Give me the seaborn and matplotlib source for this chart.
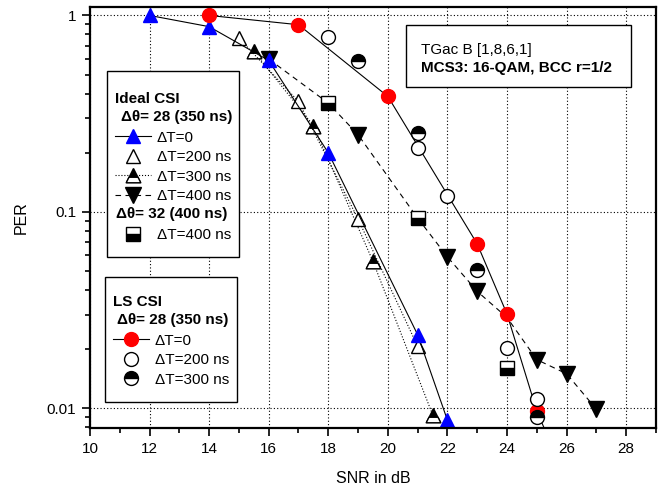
import numpy as np
import pandas as pd
import matplotlib
matplotlib.use("Agg")
import matplotlib.pyplot as plt
import seaborn as sns
from matplotlib.lines import Line2D
from matplotlib.patches import Rectangle
from matplotlib.path import Path
from matplotlib.text import Text
from matplotlib.legend_handler import HandlerBase, HandlerTuple
from matplotlib.ticker import FixedLocator, FixedFormatter, MultipleLocator, LogLocator, NullFormatter

# ---------------- data ----------------
# Ideal CSI, dtheta = 28 (350 ns)
ideal_dt0_snr = [12, 14, 16, 18, 21, 22]
ideal_dt0_per = [1.0, 0.877, 0.59, 0.20, 0.0237, 0.0087]
ideal_dt200_snr = [15, 17, 19, 21]
ideal_dt200_per = [0.767, 0.365, 0.092, 0.0207]
ideal_dt300_snr = [15.5, 17.5, 19.5, 21.5]
ideal_dt300_per = [0.656, 0.275, 0.056, 0.0093]
ideal_dt400_snr = [16, 18, 19, 21, 22, 23, 24, 25, 26, 27]
ideal_dt400_per = [0.60, 0.358, 0.247, 0.093, 0.059, 0.0394, 0.029, 0.0177, 0.015, 0.0099]
ideal_dt400_marked = [0, 2, 4, 5, 7, 8, 9]
# Ideal CSI, dtheta = 32 (400 ns)
ideal32_dt400_snr = [18, 21, 24]
ideal32_dt400_per = [0.358, 0.093, 0.016]
# LS CSI, dtheta = 28 (350 ns)
ls_dt0_snr = [14, 17, 20, 23, 24, 25, 26]
ls_dt0_per = [1.0, 0.897, 0.387, 0.0687, 0.0302, 0.0097, 0.0043]
ls_dt200_snr = [18, 21, 22, 24, 25]
ls_dt200_per = [0.78, 0.211, 0.121, 0.0203, 0.0111]
ls_dt300_snr = [19, 21, 23, 25]
ls_dt300_per = [0.583, 0.252, 0.0504, 0.0090]

x_ticks = [10, 12, 14, 16, 18, 20, 22, 24, 26, 28]
y_ticks = [0.01, 0.1, 1]
y_tick_labels = ["0.01", "0.1", "1"]

# ---------------- style ----------------
plt.rcParams['font.family'] = ['Liberation Sans', 'DejaVu Sans']
FS = 11

fig = plt.figure(figsize=(6.69, 4.90), dpi=100)
ax = fig.add_axes([0.1345, 0.1271, 0.8460, 0.8586])
ax.set_yscale('log')

LW = 0.8
DASH = (0, (5, 4))

# white lower band of the half-filled triangle (same scale as the '^' marker)
tri_band = Path([(-1, -1), (1, -1), (0.62, -0.24), (-0.62, -0.24), (-1, -1)],
                [Path.MOVETO, Path.LINETO, Path.LINETO, Path.LINETO, Path.CLOSEPOLY])

def draw(snr, per, **kw):
    df = pd.DataFrame({'SNR': snr, 'PER': per})
    sns.lineplot(data=df, x='SNR', y='PER', ax=ax, estimator=None, sort=False,
                 legend=False, **kw)

st = dict(
    dt400=dict(color='black', lw=LW, linestyle=DASH, marker='v', markersize=11,
               markerfacecolor='black', markeredgecolor='black', markeredgewidth=1),
    sq=dict(color='black', linestyle='none', marker='s', markersize=9.5, fillstyle='bottom',
            markerfacecolor='black', markerfacecoloralt='white', markeredgecolor='black',
            markeredgewidth=1),
    dt300=dict(color='black', lw=LW, linestyle=':', marker='^', markersize=10.5,
               markerfacecolor='black', markeredgecolor='black', markeredgewidth=1),
    dt300b=dict(color='black', linestyle='none', marker=tri_band, markersize=10.5,
                markerfacecolor='white', markeredgecolor='black', markeredgewidth=1),
    dt200=dict(color='black', lw=LW, linestyle=':', marker='^', markersize=10.5,
               markerfacecolor='white', markeredgecolor='black', markeredgewidth=1),
    dt0=dict(color='black', lw=LW, linestyle='-', marker='^', markersize=10.5,
             markerfacecolor='blue', markeredgecolor='blue', markeredgewidth=1),
    ls0=dict(color='black', lw=LW, linestyle='-', marker='o', markersize=10,
             markerfacecolor='red', markeredgecolor='red', markeredgewidth=1),
    ls200=dict(color='black', linestyle='none', marker='o', markersize=10,
               markerfacecolor='white', markeredgecolor='black', markeredgewidth=1),
    ls300=dict(color='black', linestyle='none', marker='o', markersize=10, fillstyle='top',
               markerfacecolor='black', markerfacecoloralt='white', markeredgecolor='black',
               markeredgewidth=1),
)

draw(ideal_dt400_snr, ideal_dt400_per, markevery=ideal_dt400_marked, **st['dt400'])
draw(ideal32_dt400_snr, ideal32_dt400_per, **st['sq'])
draw(ideal_dt300_snr, ideal_dt300_per, **st['dt300'])
draw(ideal_dt300_snr, ideal_dt300_per, **st['dt300b'])
draw(ideal_dt200_snr, ideal_dt200_per, **st['dt200'])
draw(ideal_dt0_snr, ideal_dt0_per, **st['dt0'])
draw(ls_dt0_snr, ls_dt0_per, **st['ls0'])
draw(ls_dt200_snr, ls_dt200_per, **st['ls200'])
draw(ls_dt300_snr, ls_dt300_per, **st['ls300'])

# ---------------- axes ----------------
ax.set_xlim(10, 29)
ax.set_ylim(0.00797, 1.104)
ax.xaxis.set_major_locator(FixedLocator(x_ticks))
ax.xaxis.set_minor_locator(MultipleLocator(1))
ax.yaxis.set_major_locator(FixedLocator(y_ticks))
ax.yaxis.set_major_formatter(FixedFormatter(y_tick_labels))
ax.yaxis.set_minor_locator(LogLocator(base=10, subs=np.arange(2, 10)))
ax.yaxis.set_minor_formatter(NullFormatter())
ax.tick_params(which='major', direction='out', length=6, width=1.2, labelsize=FS, pad=4)
ax.tick_params(which='minor', direction='out', length=3.5, width=1.2)
for s in ax.spines.values():
    s.set_linewidth(1.6)
ax.grid(True, which='major', color='black', linestyle=(0, (1, 2)), linewidth=0.8)
ax.set_axisbelow(True)
ax.set_xlabel('SNR in dB', fontsize=FS + 0.5, labelpad=11)
ax.set_ylabel('PER', fontsize=FS + 0.5, labelpad=13)

# ---------------- info box ----------------
ax.add_patch(Rectangle((0.558, 0.81), 0.3975, 0.1474, transform=ax.transAxes,
                       facecolor='white', edgecolor='black', linewidth=1, zorder=5))
ax.text(0.585, 0.898, 'TGac B [1,8,6,1]', transform=ax.transAxes, fontsize=FS,
        va='center', ha='left', zorder=6)
ax.text(0.585, 0.854, 'MCS3: 16-QAM, BCC r=1/2', transform=ax.transAxes, fontsize=FS,
        fontweight='bold', va='center', ha='left', zorder=6)

# ---------------- legends ----------------
class Header:
    def __init__(self, text, dx):
        self.text = text
        self.dx = dx

class HeaderHandler(HandlerBase):
    def create_artists(self, legend, orig_handle, xdescent, ydescent, width, height,
                       fontsize, trans):
        t = Text(-xdescent + orig_handle.dx, -ydescent + height / 2, orig_handle.text,
                 fontsize=fontsize, fontweight='bold', ha='left', va='center',
                 transform=trans)
        return [t]

def make_box(top, bottom):
    def box(x0, y0, width, height, mutation_size):
        verts = [(x0, y0 - bottom), (x0 + width, y0 - bottom), (x0 + width, y0 + height + top),
                 (x0, y0 + height + top), (x0, y0 - bottom)]
        return Path(verts, [Path.MOVETO, Path.LINETO, Path.LINETO, Path.LINETO, Path.CLOSEPOLY])
    return box

def H(key, **over):
    kw = {k: v for k, v in st[key].items()}
    kw.update(over)
    return Line2D([], [], **kw)

leg_kw = dict(loc='upper left', bbox_transform=ax.transAxes, fontsize=FS,
              title_fontproperties={'weight': 'bold', 'size': FS}, alignment='left',
              handlelength=2.4, handletextpad=0.35, borderpad=0.5, labelspacing=0.36,
              borderaxespad=0, frameon=True, fancybox=False, framealpha=1,
              edgecolor='black',
              handler_map={Header: HeaderHandler(), tuple: HandlerTuple(ndivide=1, pad=0)})

h1 = [Header('\u0394\u03b8= 28 (350 ns)', 4.8), H('dt0'), H('dt200', linestyle='none'),
      (H('dt300'), H('dt300b')), H('dt400'), Header('\u0394\u03b8= 32 (400 ns)', 1.2), H('sq')]
l1 = ['', '\u0394T=0', '\u0394T=200 ns', '\u0394T=300 ns', '\u0394T=400 ns', '',
      '\u0394T=400 ns']
leg1 = ax.legend(h1, l1, title='Ideal CSI', bbox_to_anchor=(0.030, 0.817), **leg_kw)
leg1.get_frame().set_linewidth(1)
leg1.legendPatch.set_boxstyle(make_box(13, 7))
leg1.set_zorder(7)
ax.add_artist(leg1)

h2 = [Header('\u0394\u03b8= 28 (350 ns)', 3.4), H('ls0'), H('ls200'), H('ls300')]
l2 = ['', '\u0394T=0', '\u0394T=200 ns', '\u0394T=300 ns']
leg2 = ax.legend(h2, l2, title='LS CSI', bbox_to_anchor=(0.0265, 0.334), **leg_kw)
leg2.get_frame().set_linewidth(1)
leg2.legendPatch.set_boxstyle(make_box(10, 8))
leg2.set_zorder(7)

fig.savefig('out.png', dpi=100)
